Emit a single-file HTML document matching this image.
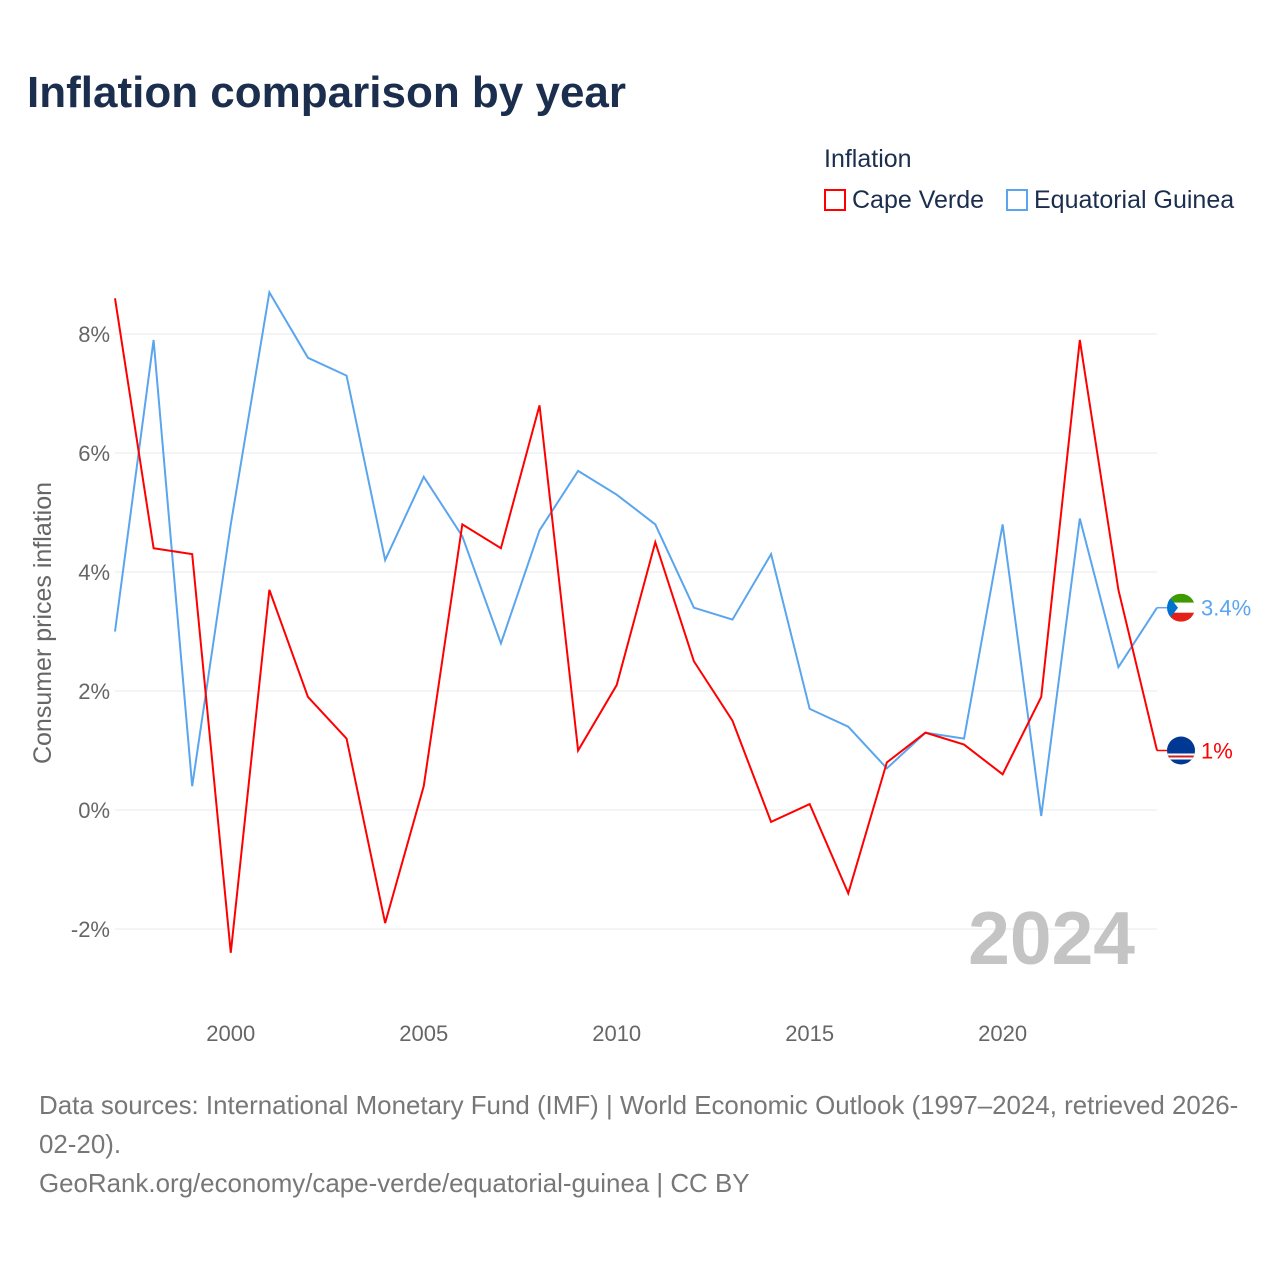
<!DOCTYPE html>
<html><head><meta charset="utf-8">
<style>
body{margin:0;width:1280px;height:1280px;background:#fff;font-family:"Liberation Sans",sans-serif;overflow:hidden;position:relative}
.t{position:absolute;white-space:nowrap}
</style></head>
<body>
<div class="t" style="left:27px;top:68px;font-size:44px;font-weight:bold;color:#1b2e4e">Inflation comparison by year</div>
<div class="t" style="left:824px;top:145px;font-size:25px;color:#1b2e4e">Inflation</div>
<div class="t" style="left:824px;top:186px;font-size:25px;color:#1b2e4e"><span style="display:inline-block;width:22px;height:22px;border:2px solid #f00;box-sizing:border-box;vertical-align:-3px;margin-right:6px"></span>Cape Verde</div>
<div class="t" style="left:1006px;top:186px;font-size:25px;color:#1b2e4e"><span style="display:inline-block;width:22px;height:22px;border:2px solid #5aa5ee;box-sizing:border-box;vertical-align:-3px;margin-right:6px"></span>Equatorial Guinea</div>
<svg id="chart" width="1280" height="1280" style="position:absolute;left:0;top:0"></svg>
<div class="t" style="left:39px;top:1087px;font-size:25.9px;line-height:39px;color:#777">Data sources: International Monetary Fund (IMF) | World Economic Outlook (1997–2024, retrieved 2026-<br>02-20).<br>GeoRank.org/economy/cape-verde/equatorial-guinea | CC BY</div>
<script>
const years=[1997,1998,1999,2000,2001,2002,2003,2004,2005,2006,2007,2008,2009,2010,2011,2012,2013,2014,2015,2016,2017,2018,2019,2020,2021,2022,2023,2024];
const capeVerde=[8.6,4.4,4.3,-2.4,3.7,1.9,1.2,-1.9,0.4,4.8,4.4,6.8,1.0,2.1,4.5,2.5,1.5,-0.2,0.1,-1.4,0.8,1.3,1.1,0.6,1.9,7.9,3.7,1.0];
const eqGuinea=[3.0,7.9,0.4,4.8,8.7,7.6,7.3,4.2,5.6,4.6,2.8,4.7,5.7,5.3,4.8,3.4,3.2,4.3,1.7,1.4,0.7,1.3,1.2,4.8,-0.1,4.9,2.4,3.4];
const yTicks=[-2,0,2,4,6,8];
const xTicks=[2000,2005,2010,2015,2020];
const NS="http://www.w3.org/2000/svg";
const svg=document.getElementById('chart');
const X=y=>115+(y-1997)*(1157-115)/27;
const Y=v=>810-v*59.5;
function mk(tag,attrs,txt){const e=document.createElementNS(NS,tag);for(const k in attrs)e.setAttribute(k,attrs[k]);if(txt!==undefined)e.textContent=txt;svg.appendChild(e);return e;}
yTicks.forEach(v=>{
  const g=mk('line',{x1:115,x2:1157,y1:Y(v),y2:Y(v),stroke:'#e8e8e8','stroke-width':1});
  
  
  const t=mk('text',{x:110,y:Y(v)+8,'text-anchor':'end','font-size':22,fill:'#666','font-family':'Liberation Sans'},v+'%');
  
  
});
xTicks.forEach(v=>{
  const t=mk('text',{x:X(v),y:1041,'text-anchor':'middle','font-size':22,fill:'#666','font-family':'Liberation Sans'},v);
  
  
});
const yt=mk('text',{x:0,y:0,transform:'translate(51,623) rotate(-90)','text-anchor':'middle','font-size':25,fill:'#666','font-family':'Liberation Sans'},'Consumer prices inflation');


const yr=mk('text',{x:1135,y:964,'text-anchor':'end','font-size':75,'font-weight':'bold',fill:'#c4c4c4','font-family':'Liberation Sans'},'2024');


function series(vals,color,name){
  const p=mk('polyline',{points:vals.map((v,i)=>X(years[i])+','+Y(v)).join(' '),fill:'none',stroke:color,'stroke-width':2});
  
  
  const last=vals[vals.length-1];
  const c=mk('line',{x1:1157,x2:1170,y1:Y(last),y2:Y(last),stroke:color,'stroke-width':1.5});
  
  
  const lb=mk('text',{x:1201,y:Y(last)+8,'font-size':22,fill:color,'font-family':'Liberation Sans'},(Math.round(last*10)/10)+'%');
  
  
}
series(eqGuinea,'#5aa5ee','equatorial-guinea-line');
series(capeVerde,'#ff0000','cape-verde-line');
const eqY=Y(eqGuinea[eqGuinea.length-1]);
const f1=mk('g',{});


[['#3e9a00',-14,9],['#fff',-5,10],['#e32118',5,9]].forEach(([c,o,h])=>{const r=document.createElementNS(NS,'rect');r.setAttribute('x',1167);r.setAttribute('y',eqY+o);r.setAttribute('width',28);r.setAttribute('height',h);r.setAttribute('fill',c);f1.appendChild(r);});
const tri=document.createElementNS(NS,'polygon');tri.setAttribute('points',`1167,${eqY-14} 1178,${eqY} 1167,${eqY+14}`);tri.setAttribute('fill','#0073ce');f1.appendChild(tri);
f1.setAttribute('clip-path','url(#c1)');
const cvY=Y(capeVerde[capeVerde.length-1]);
const defs=mk('defs',{});
defs.innerHTML=`<clipPath id="c1"><circle cx="1181" cy="${eqY}" r="14"/></clipPath><clipPath id="c2"><circle cx="1181" cy="${cvY}" r="14"/></clipPath>`;
const f2=mk('g',{'clip-path':'url(#c2)'});


f2.innerHTML=`<rect x="1167" y="${cvY-14}" width="28" height="28" fill="#003893"/><rect x="1167" y="${cvY+3}" width="28" height="6" fill="#fff"/><rect x="1167" y="${cvY+5}" width="28" height="2" fill="#cf2027"/>`;
</script>
</body></html>
